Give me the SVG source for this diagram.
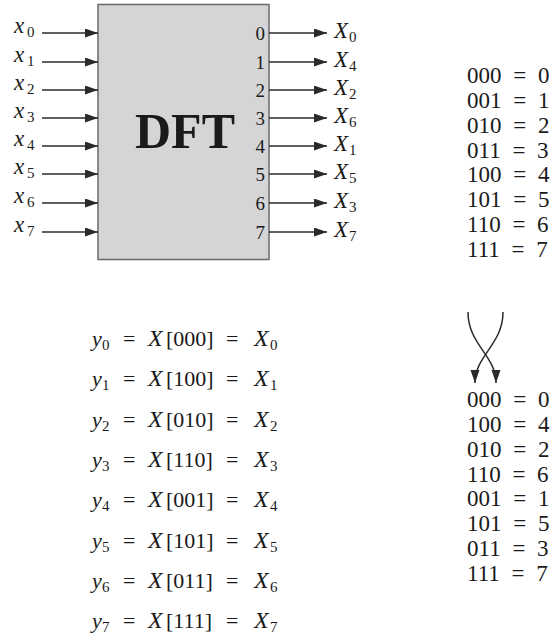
<svg xmlns="http://www.w3.org/2000/svg" width="555" height="642" viewBox="0 0 555 642">
<defs>
<marker id="ah" markerUnits="userSpaceOnUse" markerWidth="14" markerHeight="10" refX="13" refY="4.5" orient="auto">
<path d="M0,0 L13,4.5 L0,9 Z" fill="#2a2a2a"/>
</marker>
<style>
.t{font-family:"Liberation Serif","Times New Roman",serif;fill:#1a1a1a}
.it{font-style:italic}
.in{font-size:23px}
.num{font-size:19px}
.out{font-size:23px}
.eq{font-size:22px}
.bx{font-size:24px;font-style:italic}
.tab{font-size:23px;word-spacing:6px}
.s15{font-size:15px;font-style:normal}
.ln{stroke:#2a2a2a;stroke-width:1.5;fill:none;marker-end:url(#ah)}
</style>
</defs>
<rect width="555" height="642" fill="#ffffff"/>

<g id="dft">
<rect x="98" y="4.5" width="171" height="255" fill="#d5d5d7" stroke="#6a6a6a" stroke-width="1.5"/>
<text class="t" x="135" y="148" font-size="50" font-weight="bold">DFT</text>
<g class="t num" text-anchor="end">
<text x="265" y="40">0</text>
<text x="265" y="69">1</text>
<text x="265" y="97">2</text>
<text x="265" y="125">3</text>
<text x="265" y="153">4</text>
<text x="265" y="181">5</text>
<text x="265" y="210">6</text>
<text x="265" y="239">7</text>
</g>
</g>

<g id="inputs" class="t in">
<text y="33"><tspan x="14" class="it">x</tspan><tspan x="27" dy="4" class="s15">0</tspan></text>
<text y="62"><tspan x="14" class="it">x</tspan><tspan x="27" dy="4" class="s15">1</tspan></text>
<text y="90"><tspan x="14" class="it">x</tspan><tspan x="27" dy="4" class="s15">2</tspan></text>
<text y="118"><tspan x="14" class="it">x</tspan><tspan x="27" dy="4" class="s15">3</tspan></text>
<text y="146"><tspan x="14" class="it">x</tspan><tspan x="27" dy="4" class="s15">4</tspan></text>
<text y="174"><tspan x="14" class="it">x</tspan><tspan x="27" dy="4" class="s15">5</tspan></text>
<text y="203"><tspan x="14" class="it">x</tspan><tspan x="27" dy="4" class="s15">6</tspan></text>
<text y="232"><tspan x="14" class="it">x</tspan><tspan x="27" dy="4" class="s15">7</tspan></text>
</g>

<g id="outputs" class="t out">
<text y="38"><tspan x="334" class="it">X</tspan><tspan x="349" dy="4" class="s15">0</tspan></text>
<text y="67"><tspan x="334" class="it">X</tspan><tspan x="349" dy="4" class="s15">4</tspan></text>
<text y="95"><tspan x="334" class="it">X</tspan><tspan x="349" dy="4" class="s15">2</tspan></text>
<text y="123"><tspan x="334" class="it">X</tspan><tspan x="349" dy="4" class="s15">6</tspan></text>
<text y="151"><tspan x="334" class="it">X</tspan><tspan x="349" dy="4" class="s15">1</tspan></text>
<text y="179"><tspan x="334" class="it">X</tspan><tspan x="349" dy="4" class="s15">5</tspan></text>
<text y="208"><tspan x="334" class="it">X</tspan><tspan x="349" dy="4" class="s15">3</tspan></text>
<text y="237"><tspan x="334" class="it">X</tspan><tspan x="349" dy="4" class="s15">7</tspan></text>
</g>

<g id="connectors">
<line class="ln" x1="42" y1="33" x2="98" y2="33"/>
<line class="ln" x1="42" y1="62" x2="98" y2="62"/>
<line class="ln" x1="42" y1="90" x2="98" y2="90"/>
<line class="ln" x1="42" y1="118" x2="98" y2="118"/>
<line class="ln" x1="42" y1="146" x2="98" y2="146"/>
<line class="ln" x1="42" y1="174" x2="98" y2="174"/>
<line class="ln" x1="42" y1="203" x2="98" y2="203"/>
<line class="ln" x1="42" y1="232" x2="98" y2="232"/>
<line class="ln" x1="269" y1="33" x2="327" y2="33"/>
<line class="ln" x1="269" y1="62" x2="327" y2="62"/>
<line class="ln" x1="269" y1="90" x2="327" y2="90"/>
<line class="ln" x1="269" y1="118" x2="327" y2="118"/>
<line class="ln" x1="269" y1="146" x2="327" y2="146"/>
<line class="ln" x1="269" y1="174" x2="327" y2="174"/>
<line class="ln" x1="269" y1="203" x2="327" y2="203"/>
<line class="ln" x1="269" y1="232" x2="327" y2="232"/>
<path class="ln" d="M468,312 C468,345 496,355 496,383"/>
<path class="ln" d="M503,312 C503,345 475,355 475,383"/>
</g>

<g id="table-natural" class="t tab">
<text x="467" y="83">000 = 0</text>
<text x="467" y="108">001 = 1</text>
<text x="467" y="133">010 = 2</text>
<text x="467" y="158">011 = 3</text>
<text x="467" y="182">100 = 4</text>
<text x="467" y="207">101 = 5</text>
<text x="467" y="232">110 = 6</text>
<text x="467" y="257">111 = 7</text>
</g>

<g id="table-reversed" class="t tab">
<text x="467" y="407">000 = 0</text>
<text x="467" y="432">100 = 4</text>
<text x="467" y="457">010 = 2</text>
<text x="467" y="482">110 = 6</text>
<text x="467" y="506">001 = 1</text>
<text x="467" y="531">101 = 5</text>
<text x="467" y="556">011 = 3</text>
<text x="467" y="581">111 = 7</text>
</g>

<g id="equations" class="t eq">
<text y="346"><tspan x="92" class="it">y</tspan><tspan x="102" dy="4" class="s15">0</tspan><tspan x="123" dy="-4">=</tspan><tspan x="148" class="bx">X</tspan><tspan x="166">[000]</tspan><tspan x="226">=</tspan><tspan x="254" class="bx">X</tspan><tspan x="270" dy="4" class="s15">0</tspan></text>
<text y="386"><tspan x="92" class="it">y</tspan><tspan x="102" dy="4" class="s15">1</tspan><tspan x="123" dy="-4">=</tspan><tspan x="148" class="bx">X</tspan><tspan x="166">[100]</tspan><tspan x="226">=</tspan><tspan x="254" class="bx">X</tspan><tspan x="270" dy="4" class="s15">1</tspan></text>
<text y="427"><tspan x="92" class="it">y</tspan><tspan x="102" dy="4" class="s15">2</tspan><tspan x="123" dy="-4">=</tspan><tspan x="148" class="bx">X</tspan><tspan x="166">[010]</tspan><tspan x="226">=</tspan><tspan x="254" class="bx">X</tspan><tspan x="270" dy="4" class="s15">2</tspan></text>
<text y="467"><tspan x="92" class="it">y</tspan><tspan x="102" dy="4" class="s15">3</tspan><tspan x="123" dy="-4">=</tspan><tspan x="148" class="bx">X</tspan><tspan x="166">[110]</tspan><tspan x="226">=</tspan><tspan x="254" class="bx">X</tspan><tspan x="270" dy="4" class="s15">3</tspan></text>
<text y="507"><tspan x="92" class="it">y</tspan><tspan x="102" dy="4" class="s15">4</tspan><tspan x="123" dy="-4">=</tspan><tspan x="148" class="bx">X</tspan><tspan x="166">[001]</tspan><tspan x="226">=</tspan><tspan x="254" class="bx">X</tspan><tspan x="270" dy="4" class="s15">4</tspan></text>
<text y="548"><tspan x="92" class="it">y</tspan><tspan x="102" dy="4" class="s15">5</tspan><tspan x="123" dy="-4">=</tspan><tspan x="148" class="bx">X</tspan><tspan x="166">[101]</tspan><tspan x="226">=</tspan><tspan x="254" class="bx">X</tspan><tspan x="270" dy="4" class="s15">5</tspan></text>
<text y="588"><tspan x="92" class="it">y</tspan><tspan x="102" dy="4" class="s15">6</tspan><tspan x="123" dy="-4">=</tspan><tspan x="148" class="bx">X</tspan><tspan x="166">[011]</tspan><tspan x="226">=</tspan><tspan x="254" class="bx">X</tspan><tspan x="270" dy="4" class="s15">6</tspan></text>
<text y="628"><tspan x="92" class="it">y</tspan><tspan x="102" dy="4" class="s15">7</tspan><tspan x="123" dy="-4">=</tspan><tspan x="148" class="bx">X</tspan><tspan x="166">[111]</tspan><tspan x="226">=</tspan><tspan x="254" class="bx">X</tspan><tspan x="270" dy="4" class="s15">7</tspan></text>
</g>
</svg>
